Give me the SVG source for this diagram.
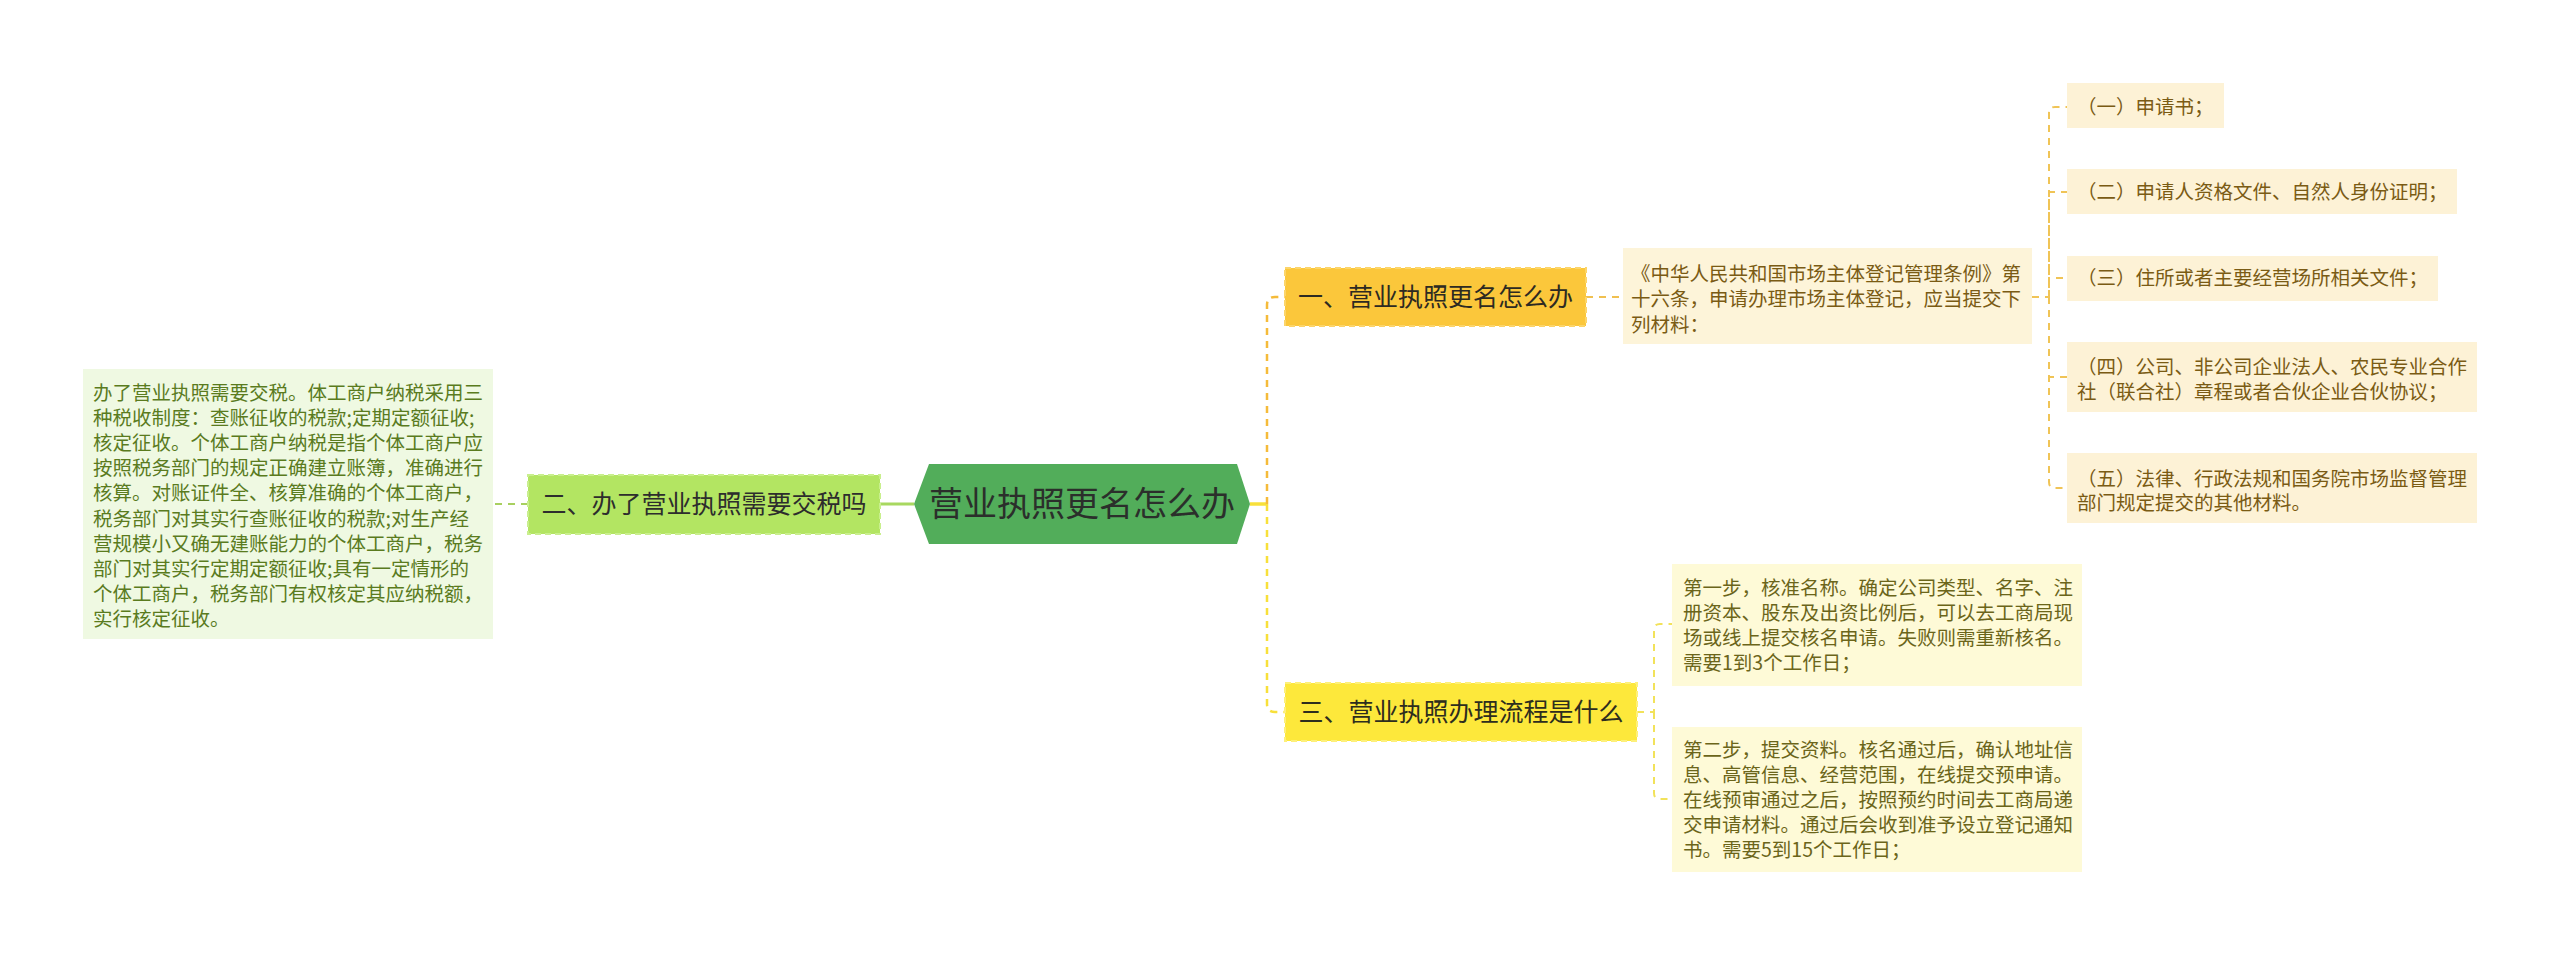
<svg xmlns="http://www.w3.org/2000/svg" width="2560" height="955" viewBox="0 0 2560 955">
<style>
text{font-family:"Noto Sans CJK SC","Noto Sans",sans-serif}
.c{fill:none;stroke-width:2.5;stroke-dasharray:7 6}
.cl{fill:none;stroke-width:2;stroke-dasharray:7 6}
.small{font-size:19.5px}
.lt{fill:#5a7b1e}
.bt{fill:#7a5b14}
.st{fill:#6b651a}
</style>
<rect width="2560" height="955" fill="#ffffff"/>
<g id="connectors">
<path d="M914,504 H880" stroke="#a8d860" stroke-width="3" fill="none"/>
<path class="cl" d="M528,504 H493" stroke="#a8d060"/>
<path d="M1250,504 H1267" stroke="#f8e03a" stroke-width="3.5" fill="none"/>
<path class="c" d="M1267,504 V305 Q1267,297 1275,297 H1285" stroke="#f5bb3a"/>
<path class="c" d="M1267,504 V704 Q1267,712 1275,712 H1285" stroke="#f8e03a"/>
<path class="cl" d="M1586,297 H1623" stroke="#f0c050"/>
<g stroke="#f0c456">
<path class="cl" d="M2032,297 H2049 V113 Q2049,107 2055,107 H2067"/>
<path class="cl" d="M2049,297 V192 H2067"/>
<path class="cl" d="M2049,297 V278 H2067"/>
<path class="cl" d="M2049,297 V377 H2067"/>
<path class="cl" d="M2049,297 V482 Q2049,488 2055,488 H2067"/>
</g>
<g stroke="#f2e25a">
<path class="cl" d="M1637,712 H1654 V630 Q1654,624 1660,624 H1672"/>
<path class="cl" d="M1654,712 V793 Q1654,799 1660,799 H1672"/>
</g>
</g>
<g id="center">
<polygon points="914,504 929,464 1237,464 1250,504 1237,544 929,544" fill="#52ad5a"/>
<text x="1082" y="516" font-size="34" text-anchor="middle" fill="#2b2f2b">营业执照更名怎么办</text>
</g>
<g id="node2">
<rect x="528" y="475" width="352" height="59" fill="#b3e562" stroke="#c9ef8e" stroke-width="2" stroke-dasharray="6 4"/>
<text x="704" y="513" font-size="25" text-anchor="middle" fill="#2d2d2d">二、办了营业执照需要交税吗</text>
</g>
<g id="node2-detail">
<rect x="83" y="369" width="410" height="270" fill="#eff9e2"/>
<g class="small lt">
<text x="93" y="399.5">办了营业执照需要交税。体工商户纳税采用三</text>
<text x="93" y="424.7">种税收制度：查账征收的税款;定期定额征收;</text>
<text x="93" y="449.9">核定征收。个体工商户纳税是指个体工商户应</text>
<text x="93" y="475.1">按照税务部门的规定正确建立账簿，准确进行</text>
<text x="93" y="500.3">核算。对账证件全、核算准确的个体工商户，</text>
<text x="93" y="525.5">税务部门对其实行查账征收的税款;对生产经</text>
<text x="93" y="550.7">营规模小又确无建账能力的个体工商户，税务</text>
<text x="93" y="575.9">部门对其实行定期定额征收;具有一定情形的</text>
<text x="93" y="601.1">个体工商户，税务部门有权核定其应纳税额，</text>
<text x="93" y="626.3">实行核定征收。</text>
</g>
</g>
<g id="node1">
<rect x="1285" y="268" width="301" height="58" fill="#fbc73b" stroke="#fcd56a" stroke-width="2" stroke-dasharray="6 4"/>
<text x="1435.5" y="306" font-size="25" text-anchor="middle" fill="#2d2a22">一、营业执照更名怎么办</text>
</g>
<g id="node1-detail">
<rect x="1623" y="248" width="409" height="96" fill="#fdf4d9"/>
<g class="small bt">
<text x="1631" y="281">《中华人民共和国市场主体登记管理条例》第</text>
<text x="1631" y="306.3">十六条，申请办理市场主体登记，应当提交下</text>
<text x="1631" y="331.6">列材料：</text>
</g>
</g>
<g id="item1">
<rect x="2067" y="83" width="157" height="45" fill="#fdf2d6"/>
<text class="small bt" x="2077" y="114">（一）申请书；</text>
</g>
<g id="item2">
<rect x="2067" y="169" width="390" height="45" fill="#fdf2d6"/>
<text class="small bt" x="2077" y="199">（二）申请人资格文件、自然人身份证明；</text>
</g>
<g id="item3">
<rect x="2067" y="256" width="371" height="45" fill="#fdf2d6"/>
<text class="small bt" x="2077" y="285">（三）住所或者主要经营场所相关文件；</text>
</g>
<g id="item4">
<rect x="2067" y="342" width="410" height="70" fill="#fdf2d6"/>
<text class="small bt" x="2077" y="374">（四）公司、非公司企业法人、农民专业合作</text>
<text class="small bt" x="2077" y="399">社（联合社）章程或者合伙企业合伙协议；</text>
</g>
<g id="item5">
<rect x="2067" y="453" width="410" height="70" fill="#fdf2d6"/>
<text class="small bt" x="2077" y="486">（五）法律、行政法规和国务院市场监督管理</text>
<text class="small bt" x="2077" y="510">部门规定提交的其他材料。</text>
</g>
<g id="node3">
<rect x="1285" y="683" width="352" height="58" fill="#fde83b" stroke="#fdf07a" stroke-width="2" stroke-dasharray="6 4"/>
<text x="1461" y="721" font-size="25" text-anchor="middle" fill="#2d2d1e">三、营业执照办理流程是什么</text>
</g>
<g id="step1">
<rect x="1672" y="564" width="410" height="122" fill="#fefad7"/>
<g class="small st">
<text x="1683" y="595">第一步，核准名称。确定公司类型、名字、注</text>
<text x="1683" y="620">册资本、股东及出资比例后，可以去工商局现</text>
<text x="1683" y="645">场或线上提交核名申请。失败则需重新核名。</text>
<text x="1683" y="670">需要1到3个工作日；</text>
</g>
</g>
<g id="step2">
<rect x="1672" y="727" width="410" height="145" fill="#fefad7"/>
<g class="small st">
<text x="1683" y="757">第二步，提交资料。核名通过后，确认地址信</text>
<text x="1683" y="782">息、高管信息、经营范围，在线提交预申请。</text>
<text x="1683" y="807">在线预审通过之后，按照预约时间去工商局递</text>
<text x="1683" y="832">交申请材料。通过后会收到准予设立登记通知</text>
<text x="1683" y="857">书。需要5到15个工作日；</text>
</g>
</g>
</svg>
